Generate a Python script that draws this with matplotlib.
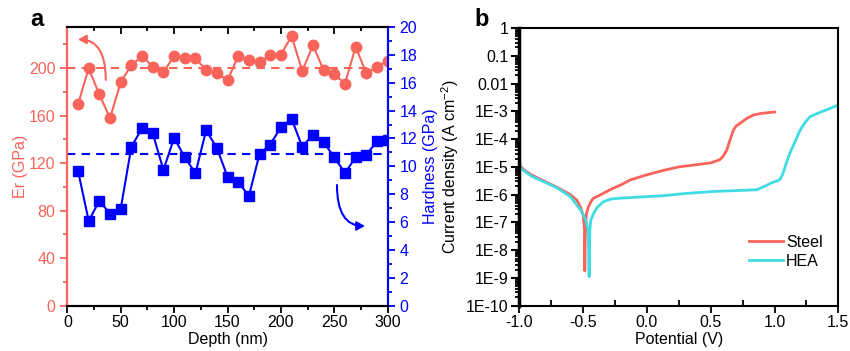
import numpy as np
import matplotlib
matplotlib.use("Agg")
import matplotlib.pyplot as plt
from matplotlib.patches import FancyArrowPatch
from matplotlib.ticker import FixedLocator, FixedFormatter, MultipleLocator, LogLocator, NullFormatter

plt.rcParams['font.family'] = ['Liberation Sans', 'DejaVu Sans']
plt.rcParams['mathtext.default'] = 'regular'

# ---------------- Data: panel a ----------------
depth = [10, 20, 30, 40, 50, 60, 70, 80, 90, 100, 110, 120, 130, 140, 150,
         160, 170, 180, 190, 200, 210, 220, 230, 240, 250, 260, 270, 280, 290, 300]
er = [169.4, 199.7, 177.7, 157.8, 188.1, 202.5, 209.9, 201.1, 196.4, 210.2,
      208.6, 208.0, 198.3, 196.1, 189.5, 209.9, 206.6, 205.2, 210.8, 211.3,
      226.8, 197.5, 219.0, 198.3, 195.0, 186.8, 217.7, 195.6, 201.1, 205.8]
hardness = [9.69, 6.09, 7.52, 6.6, 6.96, 11.41, 12.73, 12.37, 9.74, 12.04,
            10.65, 9.5, 12.59, 11.32, 9.26, 8.9, 7.86, 10.89, 11.56, 12.81,
            13.41, 11.41, 12.28, 11.73, 10.65, 9.52, 10.65, 10.84, 11.8, 11.9]
er_mean = 200
h_mean = 10.9

# ---------------- Data: panel b ----------------
steel_v = [-1.0, -0.99, -0.95, -0.9, -0.8, -0.7, -0.6, -0.55, -0.52, -0.50, -0.49,
           -0.487, -0.484, -0.475, -0.46, -0.44, -0.42, -0.38, -0.29, -0.2, -0.13,
           0.0, 0.13, 0.25, 0.39, 0.5, 0.57, 0.6, 0.625, 0.65, 0.677, 0.70, 0.73,
           0.78, 0.834, 0.9, 1.0]
steel_i = [1.8e-5, 1.0e-5, 7e-6, 5e-6, 3e-6, 1.8e-6, 1.0e-6, 6.4e-7, 3.5e-7, 1.8e-7, 6e-8,
           1.8e-9, 3e-8, 2e-7, 3.5e-7, 5.5e-7, 7.4e-7, 9e-7, 1.5e-6, 2.3e-6, 3.4e-6,
           5.2e-6, 7.5e-6, 1.0e-5, 1.2e-5, 1.4e-5, 1.8e-5, 2.5e-5, 4e-5, 9e-5, 2.1e-4, 3e-4, 3.7e-4,
           5.5e-4, 7.4e-4, 8.5e-4, 9.5e-4]
hea_v = [-1.0, -0.99, -0.95, -0.9, -0.8, -0.7, -0.6, -0.52, -0.48, -0.46, -0.453,
         -0.448, -0.44, -0.42, -0.39, -0.34, -0.28, -0.2, 0.0, 0.13, 0.3, 0.52, 0.7,
         0.86, 0.9, 0.95, 0.97, 1.0, 1.04, 1.06, 1.08, 1.1, 1.12, 1.16, 1.2, 1.24,
         1.277, 1.35, 1.42, 1.5]
hea_i = [1.5e-5, 9e-6, 6.5e-6, 4.5e-6, 2.8e-6, 1.7e-6, 8.5e-7, 2.8e-7, 1.2e-7, 5e-8, 1.1e-9,
         5e-8, 1.2e-7, 2e-7, 3.5e-7, 5.6e-7, 7e-7, 7.5e-7, 8.5e-7, 9.2e-7, 1.1e-6, 1.3e-6, 1.4e-6,
         1.5e-6, 1.8e-6, 2.3e-6, 2.6e-6, 2.9e-6, 3.4e-6, 5e-6, 9e-6, 1.8e-5, 3.1e-5, 8e-5, 2.1e-4, 4e-4,
         6.4e-4, 9e-4, 1.2e-3, 1.7e-3]
log_ticks = [1, 0.1, 0.01, 1e-3, 1e-4, 1e-5, 1e-6, 1e-7, 1e-8, 1e-9, 1e-10]
log_labels = ['1', '0.1', '0.01', '1E-3', '1E-4', '1E-5', '1E-6', '1E-7', '1E-8', '1E-9', '1E-10']

RED = '#F8645A'
BLUE = '#0000FF'
CYAN = '#3FDCE4'
FS = 11.5

fig = plt.figure(figsize=(8.5, 3.51), dpi=100)

# ================= Panel a =================
ax = fig.add_axes([0.0792, 0.1291, 0.3769, 0.794])
ax2 = ax.twinx()
ax.set_zorder(ax2.get_zorder() + 1)
ax.patch.set_visible(False)

ax.axhline(er_mean, color=RED, ls=(0, (4, 3)), lw=1.5)
ax.plot(depth, er, '-', color=RED, lw=1.5, marker='o', ms=7.5, mfc=RED, mec=RED)
ax2.axhline(h_mean, color=BLUE, ls=(0, (4, 3)), lw=1.5)
ax2.plot(depth, hardness, '-', color=BLUE, lw=1.5, marker='s', ms=7, mfc=BLUE, mec=BLUE)

ax.set_xlim(0, 300)
ax.set_ylim(0, 234.5)
ax2.set_ylim(0, 20)
ax.xaxis.set_major_locator(MultipleLocator(50))
ax.xaxis.set_minor_locator(MultipleLocator(25))
ax.yaxis.set_major_locator(MultipleLocator(40))
ax.yaxis.set_minor_locator(MultipleLocator(20))
ax2.yaxis.set_major_locator(MultipleLocator(2))
ax2.yaxis.set_minor_locator(MultipleLocator(1))

for s in ['left', 'right', 'top', 'bottom']:
    ax.spines[s].set_linewidth(1.5)
    ax2.spines[s].set_linewidth(1.5)
ax.spines['left'].set_color(RED)
ax2.spines['left'].set_color(RED)
ax.spines['right'].set_color(BLUE)
ax2.spines['right'].set_color(BLUE)

ax.tick_params(axis='x', which='major', direction='out', length=5, width=1.3, labelsize=FS, pad=2)
ax.tick_params(axis='x', which='minor', direction='out', length=3, width=1.3)
ax.tick_params(axis='x', which='both', top=True)
ax.tick_params(axis='y', which='major', direction='out', length=5, width=1.3, colors=RED, labelsize=FS)
ax.tick_params(axis='y', which='minor', direction='out', length=3, width=1.3, colors=RED)
ax2.tick_params(axis='y', which='major', direction='out', length=5, width=1.3, colors=BLUE, labelsize=FS)
ax2.tick_params(axis='y', which='minor', direction='out', length=3, width=1.3, colors=BLUE)
ax.xaxis.set_tick_params(which='both', labeltop=False)
# top ticks point inward
for t in ax.xaxis.get_major_ticks() + ax.xaxis.get_minor_ticks():
    t.tick2line.set_marker(3)

ax.set_xlabel('Depth (nm)', fontsize=FS, labelpad=1)
ax.set_ylabel('Er (GPa)', fontsize=FS, color=RED, labelpad=1)
ax2.set_ylabel('Hardness (GPa)', fontsize=FS, color=BLUE, labelpad=4)

arr1 = FancyArrowPatch((36, 190), (10, 224), connectionstyle='angle3,angleA=90,angleB=0',
                       arrowstyle='-|>,head_length=4,head_width=2.2', color=RED, lw=1.5,
                       mutation_scale=1.2, shrinkA=0, shrinkB=0)
ax.add_patch(arr1)
arr2 = FancyArrowPatch((252.5, 8.66), (278.7, 5.72), connectionstyle='angle3,angleA=90,angleB=0',
                       arrowstyle='-|>,head_length=4,head_width=2.2', color=BLUE, lw=1.5,
                       mutation_scale=1.2, shrinkA=0, shrinkB=0)
ax2.add_patch(arr2)

fig.text(0.036, 0.925, 'a', fontsize=17, fontweight='bold', ha='left', va='baseline')

# ================= Panel b =================
bx = fig.add_axes([0.611, 0.1291, 0.3753, 0.7909])
bx.plot(steel_v, steel_i, color=RED, lw=2, label='Steel')
bx.plot(hea_v, hea_i, color=CYAN, lw=2, label='HEA')
bx.set_yscale('log')
bx.set_xlim(-1.0, 1.5)
bx.set_ylim(1e-10, 1)
bx.yaxis.set_major_locator(FixedLocator(log_ticks))
bx.yaxis.set_major_formatter(FixedFormatter(log_labels))
bx.yaxis.set_minor_locator(LogLocator(base=10, subs=np.arange(2, 10), numticks=20))
bx.yaxis.set_minor_formatter(NullFormatter())
bx.xaxis.set_major_locator(MultipleLocator(0.5))
bx.xaxis.set_minor_locator(MultipleLocator(0.25))
bx.xaxis.set_major_formatter(matplotlib.ticker.FormatStrFormatter('%.1f'))
for s in ['left', 'right', 'top', 'bottom']:
    bx.spines[s].set_linewidth(1.5)
bx.spines['left'].set_linewidth(2.5)
bx.tick_params(axis='x', which='major', direction='out', length=5, width=1.3, labelsize=FS, pad=2)
bx.tick_params(axis='x', which='minor', direction='in', length=4, width=1.3)
bx.tick_params(axis='y', which='major', direction='out', length=6, width=1.5, labelsize=FS, pad=2)
bx.tick_params(axis='y', which='minor', direction='out', length=3, width=1.3)
bx.set_xlabel('Potential (V)', fontsize=FS, labelpad=1)
bx.set_ylabel('Current density (A cm$^{-2}$)', fontsize=FS, labelpad=3)
bx.legend(loc='lower right', bbox_to_anchor=(0.97, 0.11), frameon=False, fontsize=FS,
          handlelength=2.1, handletextpad=0.2, labelspacing=0.25, borderaxespad=0)

fig.text(0.558, 0.925, 'b', fontsize=17, fontweight='bold', ha='left', va='baseline')

fig.savefig('out.png', dpi=100)
